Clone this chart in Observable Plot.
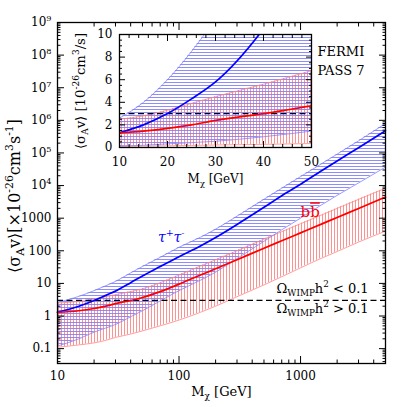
<!DOCTYPE html>
<html><head><meta charset="utf-8">
<script src="https://cdn.jsdelivr.net/npm/d3@7"></script>
<script src="https://cdn.jsdelivr.net/npm/@observablehq/plot@0.6"></script>
<style>
body{margin:0;background:#fff;}
#wrap{position:relative;width:407px;height:407px;}
#wrap svg{position:absolute;left:0;top:0;}
</style></head><body><div id="wrap"></div>
<script>
// ---- data ----
const mass      = [10, 15, 20, 25, 30, 40, 50, 70, 100, 150, 200, 300, 500, 700, 1000, 1500, 2000, 3000, 5000];
const tauCenter = [1.3, 2.0, 3.0, 4.3, 5.8, 10.5, 17, 33, 66, 140, 255, 640, 2150, 4900, 11000, 29000, 57000, 145000, 480000];
const tauUpper  = [2.6, 4.0, 6.0, 8.5, 11.5, 21, 33, 63, 128, 260, 460, 1150, 3800, 8300, 18800, 47500, 92000, 235000, 800000];
const tauLower  = [0.12, 0.2, 0.32, 0.43, 0.55, 0.95, 1.45, 2.9, 6, 12.5, 22, 58, 195, 440, 1000, 2600, 5000, 12000, 37000];
const bbCenter  = [1.3, 1.45, 1.7, 2.0, 2.4, 3.0, 3.7, 5.6, 9.5, 18, 28, 53, 120, 203, 355, 670, 1054, 1990, 4450];
const bbUpper   = [2.5, 2.8, 3.3, 3.9, 4.5, 5.6, 6.8, 10.5, 18, 34, 53, 100, 228, 385, 675, 1270, 2000, 3780, 8300];
const bbLower   = [0.11, 0.13, 0.15, 0.18, 0.22, 0.28, 0.35, 0.5, 0.75, 1.3, 2.0, 3.9, 9, 16, 30, 60, 95, 185, 400];
const relic     = [3];
const insetMassMax = 50;

const yMajor = [0.1, 1, 10, 100, 1000, 1e4, 1e5, 1e6, 1e7, 1e8, 1e9];
const xMajor = [10, 100, 1000];
const insetXMajor = [10, 20, 30, 40, 50];
const insetYMajor = [0, 2, 4, 6, 8, 10];

const annotations = [
  {m: 1380, v: 1.3e8, t: "FERMI", c: "black", s: 13, st: "normal"},
  {m: 1380, v: 3.3e7, t: "PASS 7", c: "black", s: 13, st: "normal"},
  {m: 67, v: 263, t: "τ^{+}τ^{-}", c: "#0000ff", s: 14, st: "italic"},
  {m: 1000, v: 1500, t: "b~{b}", c: "#ff0000", s: 15, st: "normal"},
  {m: 635, v: 7.0, t: "Ω_{WIMP}h^{2} < 0.1", c: "black", s: 13, st: "normal"},
  {m: 635, v: 1.7, t: "Ω_{WIMP}h^{2} > 0.1", c: "black", s: 13, st: "normal"}
];

// minor ticks
const xMinor = [], yMinor = [];
for (const d of [10, 100, 1000]) for (let k = 2; k <= 9; k++) if (d * k <= 5000) xMinor.push(d * k);
for (const d of [0.01, 0.1, 1, 10, 100, 1000, 1e4, 1e5, 1e6, 1e7, 1e8]) for (let k = 2; k <= 9; k++) if (d * k >= 0.035) yMinor.push(d * k);
const insetXMinor = d3.range(10, 50.01, 2).filter(v => v % 10 !== 0);
const insetYMinor = d3.range(0, 10.01, 0.5).filter(v => v % 2 !== 0);

const rows = mass.map((m, i) => ({m, tc: tauCenter[i], tu: tauUpper[i], tl: tauLower[i], bc: bbCenter[i], bu: bbUpper[i], bl: bbLower[i]}));
const insetRows = rows.filter(d => d.m <= insetMassMax);

const BLUE_H = "#8080ff", RED_H = "#ff8585";
const curve = "monotone-x";
const font = "DejaVu Serif";

function bandMarks(data, clip) {
  return [
    Plot.areaY(data, {x: "m", y1: "bl", y2: "bu", fill: "url(#hatchRed)", curve, clip}),
    Plot.areaY(data, {x: "m", y1: "tl", y2: "tu", fill: "url(#hatchBlue)", curve, clip}),
    Plot.lineY(data, {x: "m", y: "bu", stroke: RED_H, strokeWidth: 0.8, curve, clip}),
    Plot.lineY(data, {x: "m", y: "bl", stroke: RED_H, strokeWidth: 0.8, curve, clip}),
    Plot.lineY(data, {x: "m", y: "tu", stroke: BLUE_H, strokeWidth: 0.8, curve, clip}),
    Plot.lineY(data, {x: "m", y: "tl", stroke: BLUE_H, strokeWidth: 0.8, curve, clip}),
    Plot.ruleY(relic, {stroke: "black", strokeWidth: 1.3, strokeDasharray: "6,3.5"}),
    Plot.lineY(data, {x: "m", y: "tc", stroke: "#0000ff", strokeWidth: 1.7, curve, clip}),
    Plot.lineY(data, {x: "m", y: "bc", stroke: "#ff0000", strokeWidth: 1.7, curve, clip})
  ];
}

const blank = () => "";
const fmtY = d => {
  const e = Math.round(Math.log10(d));
  return e >= 4 ? "10^{" + e + "}" : (d < 1 ? "0.1" : String(d));
};

const main = Plot.plot({
  width: 407, height: 407,
  marginLeft: 57, marginRight: 22, marginTop: 22, marginBottom: 44,
  style: {fontFamily: font, fontSize: "12px", color: "black", background: "transparent", overflow: "visible"},
  x: {type: "log", domain: [10, 5000], label: null},
  y: {type: "log", domain: [0.035, 1e9], label: null},
  marks: [
    ...bandMarks(rows, false),
    ...annotations.map(a => Plot.text([a], {x: "m", y: "v", text: "t", fill: a.c, fontSize: a.s, fontStyle: a.st, textAnchor: "start"})),
    Plot.axisY(yMajor, {anchor: "left", tickSize: -7, tickPadding: 13, tickFormat: fmtY, label: null}),
    Plot.axisY(yMinor, {anchor: "left", tickSize: -3.5, tickFormat: blank, label: null}),
    Plot.axisY(yMajor, {anchor: "right", tickSize: -7, tickFormat: blank, label: null}),
    Plot.axisY(yMinor, {anchor: "right", tickSize: -3.5, tickFormat: blank, label: null}),
    Plot.axisX(xMajor, {anchor: "bottom", tickSize: -7, tickPadding: 15, tickFormat: d => String(d), label: null}),
    Plot.axisX(xMinor, {anchor: "bottom", tickSize: -3.5, tickFormat: blank, label: null}),
    Plot.axisX(xMajor, {anchor: "top", tickSize: -7, tickFormat: blank, label: null}),
    Plot.axisX(xMinor, {anchor: "top", tickSize: -3.5, tickFormat: blank, label: null}),
    Plot.text(["⟨σ_{A}v⟩[×10^{-26}cm^{3}s^{-1}]"], {frameAnchor: "left", textAnchor: "middle", dx: -43, dy: 3, rotate: -90, fontSize: 14}),
    Plot.text(["M_{χ} [GeV]"], {frameAnchor: "bottom", textAnchor: "middle", dy: 32, fontSize: 13}),
    Plot.frame({stroke: "black", strokeWidth: 1.3})
  ]
});

const inset = Plot.plot({
  width: 407, height: 407,
  marginLeft: 119, marginRight: 96, marginTop: 34, marginBottom: 260,
  style: {fontFamily: font, fontSize: "12px", color: "black", background: "transparent", overflow: "visible"},
  x: {domain: [10, 50], label: null},
  y: {domain: [0, 10], label: null},
  marks: [
    Plot.frame({fill: "white", stroke: null}),
    ...bandMarks(insetRows, true),
    Plot.axisY(insetYMajor, {anchor: "left", tickSize: -6, tickPadding: 13, tickFormat: d => String(d), label: null}),
    Plot.axisY(insetYMinor, {anchor: "left", tickSize: -3, tickFormat: blank, label: null}),
    Plot.axisY(insetYMajor, {anchor: "right", tickSize: -6, tickFormat: blank, label: null}),
    Plot.axisY(insetYMinor, {anchor: "right", tickSize: -3, tickFormat: blank, label: null}),
    Plot.axisX(insetXMajor, {anchor: "bottom", tickSize: -6, tickPadding: 16, tickFormat: d => String(d), label: null}),
    Plot.axisX(insetXMinor, {anchor: "bottom", tickSize: -3, tickFormat: blank, label: null}),
    Plot.axisX(insetXMajor, {anchor: "top", tickSize: -6, tickFormat: blank, label: null}),
    Plot.axisX(insetXMinor, {anchor: "top", tickSize: -3, tickFormat: blank, label: null}),
    Plot.text(["⟨σ_{A}v⟩ [10^{-26}cm^{3}/s]"], {frameAnchor: "left", textAnchor: "middle", dx: -39, rotate: -90, fontSize: 13}),
    Plot.text(["M_{χ} [GeV]"], {frameAnchor: "bottom", textAnchor: "middle", dy: 35, fontSize: 12}),
    Plot.frame({stroke: "black", strokeWidth: 1.3})
  ]
});

const wrap = document.getElementById("wrap");
wrap.appendChild(main);
wrap.appendChild(inset);

// hatch patterns
const NS = "http://www.w3.org/2000/svg";
const defs = document.createElementNS(NS, "defs");
defs.innerHTML =
  `<pattern id="hatchBlue" patternUnits="userSpaceOnUse" width="6" height="3">
     <rect x="0" y="1" width="6" height="0.9" fill="${BLUE_H}"/></pattern>
   <pattern id="hatchRed" patternUnits="userSpaceOnUse" width="3" height="6">
     <rect x="1" y="0" width="0.9" height="6" fill="${RED_H}"/></pattern>`;
main.insertBefore(defs, main.firstChild);

// rich text: _{..} subscript, ^{..} superscript, ~{..} overline
function build(el, s, base) {
  const parts = [];
  const re = /([_^~])\{([^}]*)\}/g;
  let last = 0, m;
  while ((m = re.exec(s))) {
    if (m.index > last) parts.push({t: s.slice(last, m.index), k: ""});
    parts.push({t: m[2], k: m[1]});
    last = re.lastIndex;
  }
  if (last < s.length) parts.push({t: s.slice(last), k: ""});
  el.textContent = "";
  let cur = 0;
  for (const p of parts) {
    const ts = document.createElementNS(NS, "tspan");
    const target = p.k === "^" ? -0.42 * base : p.k === "_" ? 0.28 * base : 0;
    if (target !== cur) ts.setAttribute("dy", (target - cur).toFixed(2));
    cur = target;
    if (p.k === "^" || p.k === "_") ts.setAttribute("font-size", (0.68 * base).toFixed(1));
    if (p.k === "~") ts.setAttribute("text-decoration", "overline");
    ts.textContent = p.t;
    el.appendChild(ts);
  }
}
// target lengths (px) measured on the reference for the rotated titles
const fitLengths = {
  "⟨σ_{A}v⟩[×10^{-26}cm^{3}s^{-1}]": 186,
  "⟨σ_{A}v⟩ [10^{-26}cm^{3}/s]": 116
};
function richify(svg) {
  svg.querySelectorAll("text").forEach(el => {
    const s = el.textContent;
    if (!/[_^~]\{/.test(s)) return;
    let base = parseFloat(getComputedStyle(el).fontSize) || 12;
    build(el, s, base);
    const target = fitLengths[s];
    if (target) {
      const len = el.getComputedTextLength();
      if (len > 0) {
        base = Math.min(16, base * target / len);
        el.style.fontSize = base.toFixed(2) + "px";
        build(el, s, base);
      }
    }
  });
}
richify(main);
richify(inset);
</script></body></html>
